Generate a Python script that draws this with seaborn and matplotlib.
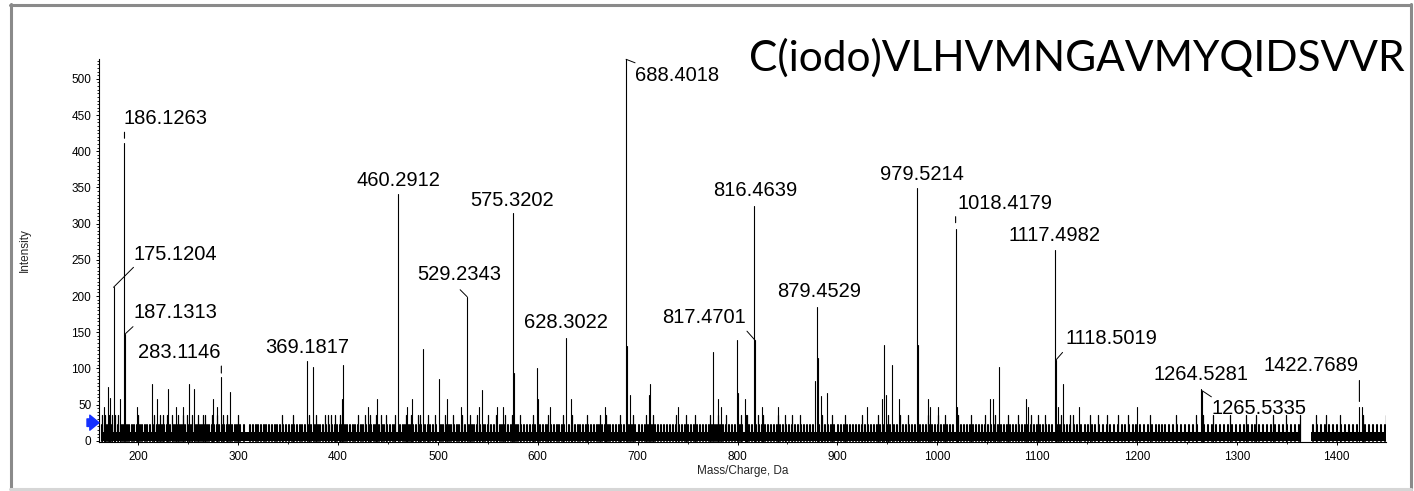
import matplotlib
matplotlib.use("Agg")
import matplotlib.pyplot as plt
from matplotlib.ticker import MultipleLocator
from matplotlib.transforms import offset_copy
from matplotlib.lines import Line2D
import numpy as np
import pandas as pd
import seaborn as sns

# ---------------- data ----------------
title_text = "C(iodo)VLHVMNGAVMYQIDSVVR"

label_text = ["175.1204", "186.1263", "187.1313", "283.1146", "369.1817",
              "460.2912", "529.2343", "575.3202", "628.3022", "688.4018",
              "816.4639", "817.4701", "879.4529", "979.5214", "1018.4179",
              "1117.4982", "1118.5019", "1264.5281", "1265.5335", "1422.7689"]
label_mz = [175.1204, 186.1263, 187.1313, 283.1146, 369.1817,
            460.2912, 529.2343, 575.3202, 628.3022, 688.4018,
            816.4639, 817.4701, 879.4529, 979.5214, 1018.4179,
            1117.4982, 1118.5019, 1264.5281, 1265.5335, 1422.7689]
label_int = [212, 411, 148, 88, 110,
             341, 199, 314, 142, 527,
             325, 139, 185, 349, 293,
             263, 111, 71, 69, 46]

peak_mz = [166, 169.4, 171.7, 181.7, 198.3, 214, 218.7, 230, 237.7, 244.4,
           251, 255.7, 275, 279, 291.8, 375.2, 403.7, 404.9, 430.3, 439.3,
           469.3, 473.7, 485.3, 501, 509.4, 522.8, 540.8, 544.1, 558.9, 564.9,
           576.5, 599, 600.6, 612.2, 633, 667.3, 689.6, 692.3, 711.4, 712.4,
           740.7, 775.1, 780.1, 783, 799.2, 800.8, 807.5, 824.2, 840.2, 877.6,
           880.4, 883.6, 889.9, 929.3, 944.3, 947, 948.3, 954.3, 962, 980.5,
           990.4, 993, 1000.4, 1020.1, 1052.8, 1056.1, 1062.1, 1088.8, 1090.5, 1121,
           1126.2, 1142.2, 1199.7, 1425.1]
peak_int = [46, 74, 59, 58, 46, 78, 58, 71, 46, 46,
            79, 72, 58, 46, 68, 102, 58, 105, 46, 58,
            46, 58, 127, 85, 58, 46, 46, 70, 46, 46,
            94, 101, 58, 46, 58, 46, 131, 63, 63, 79,
            46, 122, 58, 46, 139, 66, 58, 46, 46, 83,
            114, 62, 66, 46, 58, 132, 63, 104, 58, 132,
            58, 46, 46, 46, 58, 58, 102, 58, 46, 46,
            78, 46, 46, 46]

noise36_mz = [163.4, 166.9, 170.7, 173.4, 176.7, 179.4, 200, 215.5, 221.7, 225,
              228.4, 233.4, 240, 245, 248.4, 253.4, 260, 265, 266.7, 273.4,
              278.4, 285, 288.4, 300, 343.4, 355, 370.5, 378.4, 386.7, 390,
              393.4, 396.7, 401.7, 420, 426.7, 431.7, 438.4, 443.4, 448.4, 456.7,
              468.4, 473.4, 480, 482.5, 490.4, 497.1, 507.1, 515.4, 523.8, 532.1,
              538.8, 550.4, 558.2, 567.1, 573.8, 582.1, 595.4, 610.4, 625.4, 633.8,
              648.8, 662.1, 668.8, 682.1, 695.4, 708.8, 715.4, 738.8, 748.8, 757.1,
              772.1, 780.4, 788.8, 803.8, 808.8, 809.9, 820.8, 825.8, 840.8, 847.5,
              854.2, 862.5, 884.2, 894.2, 907.5, 924.2, 940.8, 950.8, 962.5, 970.8,
              990.8, 1000.8, 1007.5, 1020.8, 1034.2, 1047.5, 1057.5, 1070.8, 1080.8, 1094.2,
              1100.8, 1107.5, 1124.2, 1132.5, 1136.2, 1152.9, 1161.2, 1169.6, 1181.2, 1191.2,
              1212.9, 1239.6, 1259.6, 1266.2, 1276.2, 1292.9, 1309.6, 1319.6, 1336.2, 1349.6,
              1362.9, 1378.9, 1389.6, 1402.9, 1426.2, 1449.0]

noise23_mz = [164, 167, 169, 172, 174, 177, 180, 183, 185, 189, 191, 194, 196, 199,
              202, 204, 207, 209, 212, 216, 219, 221, 224, 226, 229, 232, 235, 237, 239,
              242, 244, 247, 250, 252, 254, 257, 259, 262, 264, 267, 269, 271, 274, 276,
              279, 281, 284, 286, 289, 291, 294, 297, 299,
              302, 306, 312, 315, 318, 320, 323, 326, 328, 331, 334, 337, 339, 342, 345,
              348, 351, 354, 356, 359, 362, 364, 367, 371, 373, 377, 380, 382, 385, 388,
              391, 394, 397, 399,
              402, 404, 407, 409, 412, 415, 417, 420, 423, 425, 428, 431, 433, 436, 438,
              441, 444, 446, 449, 452, 455, 457, 462, 465, 467, 470, 472, 475, 478, 481,
              483, 487, 490, 492, 495, 498,
              503, 505, 508, 511, 513, 516, 519, 521, 524, 527, 531, 534, 536, 539, 542,
              545, 547, 550, 553, 556, 559, 562, 564, 567, 570, 573, 578, 580, 583, 586,
              589, 592, 595, 597,
              602, 605, 608, 610, 613, 616, 619, 621, 624, 626, 631, 634, 637, 640, 642,
              645, 648, 650, 653, 656, 659, 661, 664, 667, 670, 672, 675, 678, 681, 683,
              686, 691, 694, 697,
              701, 704, 707, 710, 714, 717, 720, 723, 726, 729, 732, 735, 738, 741, 744,
              747, 750, 753, 756, 759, 762, 765, 768, 771, 774, 777, 779, 782, 785, 788,
              791, 794, 797,
              802, 805, 809, 812, 815, 819, 822, 825, 828, 831, 834, 837, 840, 843, 846,
              849, 852, 855, 858, 861, 864, 867, 870, 873, 876, 882, 885, 888, 891, 894, 897,
              901, 904, 907, 910, 913, 916, 919, 922, 925, 928, 931, 934, 937, 940, 943,
              946, 950, 953, 957, 960, 963, 966, 969, 972, 975, 978, 983, 986, 989, 992,
              995, 998,
              1001, 1004, 1007, 1010, 1013, 1016, 1021, 1024, 1027, 1030, 1033, 1036, 1039,
              1042, 1045, 1048, 1051, 1054, 1058, 1061, 1064, 1067, 1070, 1073, 1076, 1079,
              1082, 1085, 1088, 1091, 1094, 1097,
              1100, 1103, 1106, 1109, 1112, 1115, 1120, 1123, 1127, 1130, 1133, 1137, 1140,
              1144, 1148, 1151, 1155, 1158, 1162, 1166, 1170, 1173, 1177, 1181, 1185, 1188,
              1192, 1196,
              1199, 1203, 1207, 1211, 1215, 1219, 1222, 1225, 1228, 1232, 1236, 1240, 1244,
              1248, 1252, 1256, 1260, 1267, 1271, 1275, 1279, 1283, 1287, 1291, 1295, 1299,
              1303, 1307, 1311, 1315, 1318, 1322, 1326, 1330, 1334, 1338, 1342, 1346, 1350,
              1354, 1358, 1362, 1376, 1380, 1384, 1388, 1392, 1396, 1400, 1404, 1408, 1412,
              1416, 1420, 1428, 1432, 1436, 1440, 1444, 1448]
noise23_level = 22
noise36_level = 35

floor_start = [163, 1374]
floor_end = [1364, 1449]
floor_level = 12

threshold_level = 25

x_limits = (160.6, 1449.4)
y_limits = (-1, 527)

# ---------------- layout (pixels) ----------------
label_offsets = [(62, 33), (41, 25), (50, 21), (-42, 25), (0, 14),
                 (0, 13), (-8, 22), (-1, 13), (0, 15), (51, -16),
                 (1, 15), (-51, 23), (2, 15), (5, 14), (49, 25),
                 (0, 15), (56, 22), (0, 15), (57, -18), (-48, 42)]
leader_ends = [(20, 20), None, (7.5, 7), None, None,
               None, (-7, 7), None, None, (9, -3.5),
               None, (-8, 9), None, None, None,
               None, (7, 8), None, (9, -6), None]
dash_bits = [None, (5, 11), None, (4, 11), None,
             None, None, None, None, None,
             None, None, None, None, (6, 12),
             None, None, None, None, (6, 27)]

W, H = 1414, 491
DPI = 100

sns.set_theme(style="ticks")
plt.rcParams["font.family"] = ["Liberation Sans", "DejaVu Sans"]

fig = plt.figure(figsize=(W / DPI, H / DPI), dpi=DPI)
fig.patch.set_facecolor("white")

ax_left, ax_right = 99, 1386
ax_top, ax_bot = 59.3, 441.5
ax = fig.add_axes([ax_left / W, (H - ax_bot) / H,
                   (ax_right - ax_left) / W, (ax_bot - ax_top) / H])
ax.set_facecolor("white")


def stick_table(mzs, ints):
    rows = []
    for i, (m, v) in enumerate(zip(mzs, ints)):
        rows += [(i, m, 0), (i, m, v)]
    return pd.DataFrame(rows, columns=["pid", "mz", "intensity"])


noise23 = stick_table(noise23_mz, [noise23_level] * len(noise23_mz))
noise36 = stick_table(noise36_mz, [noise36_level] * len(noise36_mz))
peaks = stick_table(peak_mz + label_mz, peak_int + label_int)

# noise floor
for a, b in zip(floor_start, floor_end):
    ax.fill_between([a, b], 0, floor_level, color="black", lw=0, zorder=2)

sns.lineplot(data=noise23, x="mz", y="intensity", units="pid", estimator=None,
             sort=False, color="black", lw=1.5, legend=False, ax=ax, zorder=3)
sns.lineplot(data=noise36, x="mz", y="intensity", units="pid", estimator=None,
             sort=False, color="black", lw=0.9, legend=False, ax=ax, zorder=3)
sns.lineplot(data=peaks, x="mz", y="intensity", units="pid", estimator=None,
             sort=False, color="black", lw=0.8, legend=False, ax=ax, zorder=3)

ax.set_xlim(*x_limits)
ax.set_ylim(*y_limits)

# labels
for txt, m, v, off, le, db in zip(label_text, label_mz, label_int,
                                  label_offsets, leader_ends, dash_bits):
    ax.annotate(txt, xy=(m, v), xytext=off, textcoords="offset pixels",
                ha="center", va="center", fontsize=14.5, color="black",
                annotation_clip=False)
    if le is not None:
        ax.annotate("", xy=(m, v), xytext=le, textcoords="offset pixels",
                    arrowprops=dict(arrowstyle="-", lw=0.7, color="black",
                                    shrinkA=0, shrinkB=0))
    if db is not None:
        tr = offset_copy(ax.transData, fig=fig, x=0, y=db[0], units="dots")
        ax.annotate("", xy=(m, v), xycoords=tr,
                    xytext=(0, db[1] - db[0]), textcoords="offset pixels",
                    arrowprops=dict(arrowstyle="-", lw=0.8, color="black",
                                    shrinkA=0, shrinkB=0))

# threshold arrow
ax.annotate("", xy=(0.0, threshold_level), xycoords=("axes fraction", "data"),
            xytext=(-12, 0), textcoords="offset pixels",
            arrowprops=dict(arrowstyle="simple,head_width=0.9,head_length=0.55,tail_width=0.45",
                            color="#1430ff", shrinkA=0, shrinkB=0),
            annotation_clip=False)

# axes styling
for s in ["top", "right"]:
    ax.spines[s].set_visible(False)
for s in ["left", "bottom"]:
    ax.spines[s].set_linewidth(0.8)
    ax.spines[s].set_color("black")
ax.xaxis.set_major_locator(MultipleLocator(100))
ax.xaxis.set_minor_locator(MultipleLocator(50))
ax.yaxis.set_major_locator(MultipleLocator(50))
ax.yaxis.set_minor_locator(MultipleLocator(5))
ax.tick_params(axis="both", which="major", length=2.5, width=0.7, labelsize=8.5,
               colors="black", pad=3)
ax.tick_params(axis="x", which="major", pad=4)
ax.tick_params(axis="both", which="minor", length=1.3, width=0.6, colors="black")
ax.set_xlabel("Mass/Charge, Da", fontsize=8.5)
ax.set_ylabel("Intensity", fontsize=8.5)
ax.xaxis.set_label_coords((743 - ax_left) / (ax_right - ax_left),
                          -(471 - ax_bot) / (ax_bot - ax_top))
ax.xaxis.label.set_va("center")
ax.yaxis.set_label_coords(-(ax_left - 25) / (ax_right - ax_left), 0.5)
ax.yaxis.label.set_va("center")

# title
fig.text(1405 / W, (H - 71) / H, title_text, ha="right", va="baseline",
         fontsize=30.5, family=["Lato", "DejaVu Sans"], color="black")

# outer frame
fig.add_artist(Line2D([11 / W, 11 / W], [(H - 4) / H, (H - 489) / H],
                      transform=fig.transFigure, color="#8a8a8a", lw=2.2))
fig.add_artist(Line2D([10 / W, 1411 / W], [(H - 5) / H, (H - 5) / H],
                      transform=fig.transFigure, color="#8a8a8a", lw=2.2))
fig.add_artist(Line2D([1411 / W, 1411 / W], [(H - 4) / H, (H - 489) / H],
                      transform=fig.transFigure, color="#8a8a8a", lw=2.2))
fig.add_artist(Line2D([10 / W, 1411 / W], [(H - 489) / H, (H - 489) / H],
                      transform=fig.transFigure, color="#d6d6d6", lw=2.2))

fig.savefig("out.png", dpi=DPI, facecolor="white")
